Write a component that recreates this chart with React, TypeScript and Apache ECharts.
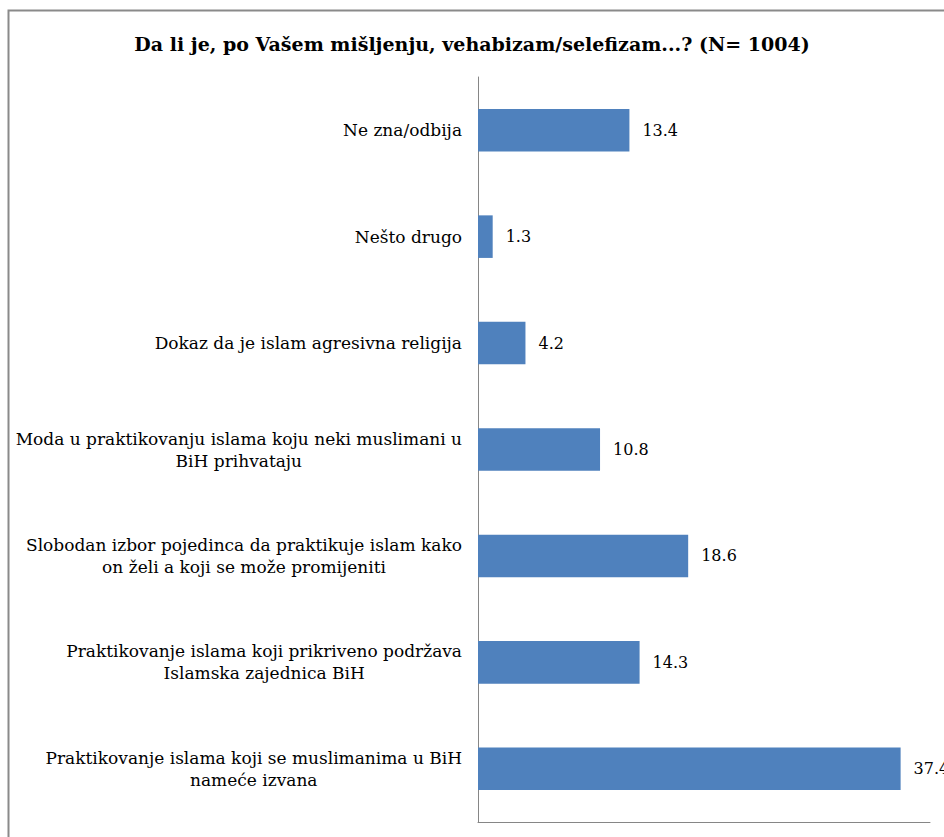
import React, { useEffect, useRef } from "react";
import * as echarts from "echarts";

const TITLE = "Da li je, po Vašem mišljenju, vehabizam/selefizam...? (N= 1004)";
const categories = [
  "Ne zna/odbija",
  "Nešto drugo",
  "Dokaz da je islam agresivna religija",
  "Moda u praktikovanju islama koju neki muslimani u\nBiH prihvataju",
  "Slobodan izbor pojedinca da praktikuje islam kako\non želi a koji se može promijeniti",
  "Praktikovanje islama koji prikriveno podržava\nIslamska zajednica BiH",
  "Praktikovanje islama koji se muslimanima u BiH\nnameće izvana",
];
const values = [13.4, 1.3, 4.2, 10.8, 18.6, 14.3, 37.4];
const xMin = 0;
const xMax = 40;

const SERIF = "'DejaVu Serif', 'Liberation Serif', serif";

export default function App() {
  const ref = useRef<HTMLDivElement>(null);
  useEffect(() => {
    if (!ref.current) return;
    const chart = echarts.init(ref.current, undefined, { renderer: "svg" });
    chart.setOption({
      animation: false,
      backgroundColor: "#ffffff",
      title: {
        text: TITLE,
        left: "center",
        top: 29,
        textStyle: {
          fontFamily: SERIF,
          fontWeight: "bold",
          fontSize: 19,
          color: "#000000",
        },
      },
      graphic: [
        {
          type: "rect",
          shape: { x: 8.5, y: 10.5, width: 1000, height: 1000 },
          style: { fill: "none", stroke: "#8a8a8a", lineWidth: 2 },
          silent: true,
        },
      ],
      grid: { left: 478, right: 14, top: 77, bottom: 15, containLabel: false },
      xAxis: {
        type: "value",
        min: xMin,
        max: xMax,
        axisLine: { show: true, lineStyle: { color: "#868686", width: 1 } },
        axisTick: { show: false },
        axisLabel: { show: false },
        splitLine: { show: false },
      },
      yAxis: {
        type: "category",
        inverse: true,
        data: categories,
        axisLine: { show: true, lineStyle: { color: "#868686", width: 1 } },
        axisTick: { show: false },
        axisLabel: {
          margin: 16,
          align: "right",
          formatter: (v: string) =>
            v
              .split("\n")
              .map((l) => `{c|${l}}`)
              .join("\n"),
          rich: {
            c: {
              align: "center",
              fontFamily: SERIF,
              fontSize: 17,
              lineHeight: 22,
              color: "#000000",
            },
          },
        },
      },
      series: [
        {
          type: "bar",
          data: values,
          barCategoryGap: "60%",
          itemStyle: { color: "#4F81BD" },
          label: {
            show: true,
            position: "right",
            distance: 13,
            fontFamily: SERIF,
            fontSize: 16,
            color: "#000000",
            formatter: (p: any) => p.value.toFixed(1),
          },
        },
      ],
    });
    return () => chart.dispose();
  }, []);
  return (
    <div
      ref={ref}
      style={{ position: "fixed", left: 0, top: 0, width: 944, height: 837 }}
    />
  );
}
